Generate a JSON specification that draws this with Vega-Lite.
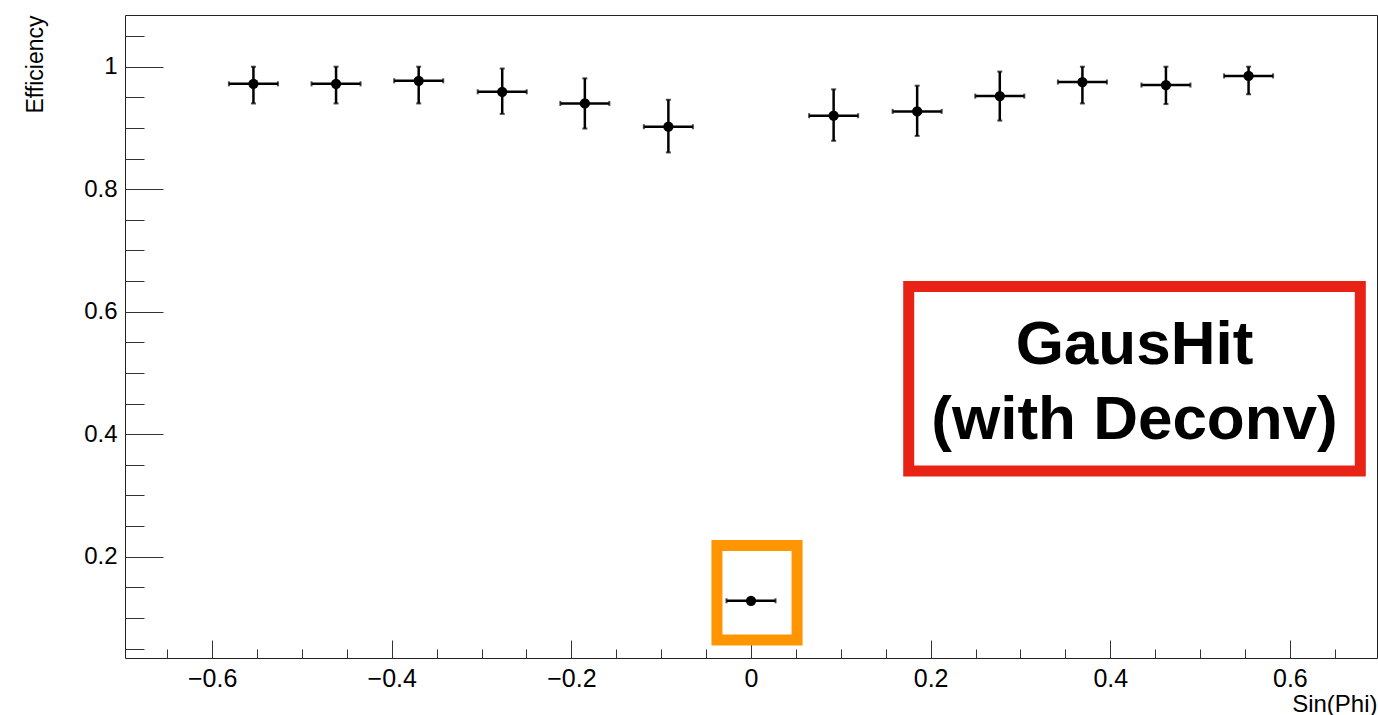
{
  "$schema": "https://vega.github.io/schema/vega-lite/v6.json",
  "width": 1252,
  "height": 643,
  "autosize": "none",
  "padding": {"left": 125, "top": 15, "right": 1, "bottom": 57},
  "background": "white",
  "config": {
    "font": "Liberation Sans",
    "view": {"stroke": "#222", "strokeWidth": 1},
    "axis": {"labelColor": "#000", "titleColor": "#000", "tickColor": "#333", "tickWidth": 1, "grid": false}
  },
  "datasets": {
    "pts": [
      {"sinphi": -0.554, "xlo": -0.5813, "xhi": -0.5267, "eff": 0.972, "lo": 0.940, "hi": 1.000},
      {"sinphi": -0.462, "xlo": -0.4893, "xhi": -0.4347, "eff": 0.972, "lo": 0.940, "hi": 1.000},
      {"sinphi": -0.370, "xlo": -0.3973, "xhi": -0.3427, "eff": 0.977, "lo": 0.940, "hi": 1.000},
      {"sinphi": -0.277, "xlo": -0.3043, "xhi": -0.2497, "eff": 0.959, "lo": 0.923, "hi": 0.997},
      {"sinphi": -0.185, "xlo": -0.2123, "xhi": -0.1577, "eff": 0.940, "lo": 0.899, "hi": 0.981},
      {"sinphi": -0.092, "xlo": -0.1193, "xhi": -0.0647, "eff": 0.902, "lo": 0.860, "hi": 0.946},
      {"sinphi": 0.000, "xlo": -0.0273, "xhi": 0.0273, "eff": 0.128, "lo": 0.126, "hi": 0.130},
      {"sinphi": 0.092, "xlo": 0.0647, "xhi": 0.1193, "eff": 0.920, "lo": 0.879, "hi": 0.963},
      {"sinphi": 0.185, "xlo": 0.1577, "xhi": 0.2123, "eff": 0.927, "lo": 0.887, "hi": 0.969},
      {"sinphi": 0.277, "xlo": 0.2497, "xhi": 0.3043, "eff": 0.952, "lo": 0.912, "hi": 0.992},
      {"sinphi": 0.369, "xlo": 0.3417, "xhi": 0.3963, "eff": 0.975, "lo": 0.940, "hi": 1.000},
      {"sinphi": 0.462, "xlo": 0.4347, "xhi": 0.4893, "eff": 0.970, "lo": 0.939, "hi": 1.000},
      {"sinphi": 0.554, "xlo": 0.5267, "xhi": 0.5813, "eff": 0.985, "lo": 0.955, "hi": 1.000}
    ],
    "boxes": [
      {"name": "GausHit label", "x1": 0.1756, "x2": 0.6784, "y1": 0.641, "y2": 0.340},
      {"name": "outlier", "x1": -0.0379, "x2": 0.0513, "y1": 0.2183, "y2": 0.0638}
    ],
    "labels": [
      {"text": "GausHit", "x": 0.427, "y": 0.5143},
      {"text": "(with Deconv)", "x": 0.427, "y": 0.3917}
    ]
  },
  "resolve": {"axis": {"x": "independent", "y": "independent"}},
  "layer": [
    {
      "data": {"name": "boxes"},
      "mark": {"type": "rect", "fillOpacity": 0, "strokeWidth": 11},
      "encoding": {
        "x": {"field": "x1", "type": "quantitative", "scale": {"domain": [-0.697, 0.697], "nice": false, "zero": false},
              "axis": {"orient": "bottom", "values": [-0.6, -0.4, -0.2, 0, 0.2, 0.4, 0.6], "labels": false, "domain": false, "ticks": true, "tickSize": -18, "title": null}},
        "x2": {"field": "x2"},
        "y": {"field": "y1", "type": "quantitative", "scale": {"domain": [0.0346, 1.0844], "nice": false, "zero": false},
              "axis": {"orient": "left", "values": [0.2, 0.4, 0.6, 0.8, 1.0], "labels": false, "domain": false, "ticks": true, "tickSize": -38, "title": null}},
        "y2": {"field": "y2"},
        "stroke": {"field": "name", "type": "nominal", "scale": {"domain": ["GausHit label", "outlier"], "range": ["#e82316", "#ff9500"]}, "legend": null}
      }
    },
    {
      "data": {"name": "labels"},
      "mark": {"type": "text", "font": "Liberation Sans", "fontWeight": "bold", "fontSize": 62, "align": "center", "baseline": "alphabetic", "color": "#000"},
      "encoding": {
        "x": {"field": "x", "type": "quantitative", "scale": {"domain": [-0.697, 0.697], "nice": false, "zero": false},
              "axis": {"orient": "bottom", "values": [-0.65, -0.6, -0.55, -0.5, -0.45, -0.4, -0.35, -0.3, -0.25, -0.2, -0.15, -0.1, -0.05, 0, 0.05, 0.1, 0.15, 0.2, 0.25, 0.3, 0.35, 0.4, 0.45, 0.5, 0.55, 0.6, 0.65], "labels": false, "domain": false, "ticks": true, "tickSize": -9, "title": null}},
        "y": {"field": "y", "type": "quantitative", "scale": {"domain": [0.0346, 1.0844], "nice": false, "zero": false},
              "axis": {"orient": "left", "values": [0.05, 0.1, 0.15, 0.2, 0.25, 0.3, 0.35, 0.4, 0.45, 0.5, 0.55, 0.6, 0.65, 0.7, 0.75, 0.8, 0.85, 0.9, 0.95, 1.0, 1.05], "labels": false, "domain": false, "ticks": true, "tickSize": -19, "title": null}},
        "text": {"field": "text", "type": "nominal"}
      }
    },
    {
      "data": {"name": "pts"},
      "mark": {"type": "rule", "color": "#000", "strokeWidth": 2.5},
      "encoding": {
        "x": {"field": "sinphi", "type": "quantitative", "scale": {"domain": [-0.697, 0.697], "nice": false, "zero": false}, "axis": null},
        "y": {"field": "lo", "type": "quantitative", "scale": {"domain": [0.0346, 1.0844], "nice": false, "zero": false}, "axis": null},
        "y2": {"field": "hi"}
      }
    },
    {
      "data": {"name": "pts"},
      "mark": {"type": "rule", "color": "#000", "strokeWidth": 2.5},
      "encoding": {
        "x": {"field": "xlo", "type": "quantitative", "scale": {"domain": [-0.697, 0.697], "nice": false, "zero": false}, "axis": null},
        "x2": {"field": "xhi"},
        "y": {"field": "eff", "type": "quantitative", "scale": {"domain": [0.0346, 1.0844], "nice": false, "zero": false}, "axis": null}
      }
    },
    {
      "data": {"name": "pts"},
      "mark": {"type": "tick", "orient": "horizontal", "color": "#000", "size": 5, "thickness": 2},
      "encoding": {
        "x": {"field": "sinphi", "type": "quantitative", "scale": {"domain": [-0.697, 0.697], "nice": false, "zero": false}, "axis": null},
        "y": {"field": "lo", "type": "quantitative", "scale": {"domain": [0.0346, 1.0844], "nice": false, "zero": false}, "axis": null}
      }
    },
    {
      "data": {"name": "pts"},
      "mark": {"type": "tick", "orient": "horizontal", "color": "#000", "size": 5, "thickness": 2},
      "encoding": {
        "x": {"field": "sinphi", "type": "quantitative", "scale": {"domain": [-0.697, 0.697], "nice": false, "zero": false}, "axis": null},
        "y": {"field": "hi", "type": "quantitative", "scale": {"domain": [0.0346, 1.0844], "nice": false, "zero": false}, "axis": null}
      }
    },
    {
      "data": {"name": "pts"},
      "mark": {"type": "tick", "orient": "vertical", "color": "#000", "size": 5, "thickness": 2},
      "encoding": {
        "x": {"field": "xlo", "type": "quantitative", "scale": {"domain": [-0.697, 0.697], "nice": false, "zero": false}, "axis": null},
        "y": {"field": "eff", "type": "quantitative", "scale": {"domain": [0.0346, 1.0844], "nice": false, "zero": false}, "axis": null}
      }
    },
    {
      "data": {"name": "pts"},
      "mark": {"type": "tick", "orient": "vertical", "color": "#000", "size": 5, "thickness": 2},
      "encoding": {
        "x": {"field": "xhi", "type": "quantitative", "scale": {"domain": [-0.697, 0.697], "nice": false, "zero": false}, "axis": null},
        "y": {"field": "eff", "type": "quantitative", "scale": {"domain": [0.0346, 1.0844], "nice": false, "zero": false}, "axis": null}
      }
    },
    {
      "data": {"name": "pts"},
      "mark": {"type": "point", "filled": true, "color": "#000", "size": 105, "opacity": 1},
      "encoding": {
        "x": {"field": "sinphi", "type": "quantitative", "scale": {"domain": [-0.697, 0.697], "nice": false, "zero": false},
              "axis": {"orient": "bottom", "values": [-0.6, -0.4, -0.2, 0, 0.2, 0.4, 0.6], "format": "~g", "ticks": false, "domain": false, "labelFontSize": 25, "labelPadding": 8, "labelFlush": false, "labelOverlap": false,
                       "title": "Sin(Phi)", "titleFontSize": 24, "titleFontWeight": "normal", "titleAlign": "right", "titleAnchor": "end", "titleX": 1252, "titleY": 53, "titleBaseline": "alphabetic"}},
        "y": {"field": "eff", "type": "quantitative", "scale": {"domain": [0.0346, 1.0844], "nice": false, "zero": false},
              "axis": {"orient": "left", "values": [0.2, 0.4, 0.6, 0.8, 1.0], "format": "~g", "ticks": false, "domain": false, "labelFontSize": 24, "labelPadding": 8, "labelFlush": false, "labelOverlap": false,
                       "title": "Efficiency", "titleFontSize": 23, "titleFontWeight": "normal", "titleAngle": 270, "titleAlign": "right", "titleBaseline": "alphabetic", "titleX": -83, "titleY": 0}}
      }
    }
  ]
}
